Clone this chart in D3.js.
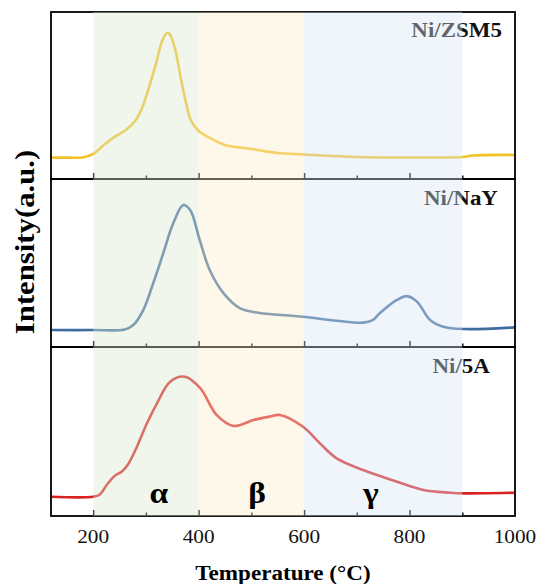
<!DOCTYPE html>
<html><head><meta charset="utf-8">
<script src="https://cdn.jsdelivr.net/npm/d3@7"></script>
<style>body{margin:0;background:#fff}svg{display:block}
text{font-family:"Liberation Serif","Times New Roman",serif}</style>
</head><body>
<script>
// ---- data ----
const samples = ["Ni/ZSM5", "Ni/NaY", "Ni/5A"];
const zsm5T = [120,150,180,200,220,240,262,280,292,305,320,330,340,345,355,365,375,385,400,425,450,500,550,600,700,800,900,920,1000];
const zsm5I = [12.8,12.8,12.9,15.0,20.4,25.1,29.3,35.0,42.0,54.0,70.1,82.0,87.4,86.8,78.4,62.3,47.3,35.3,28.7,24.0,20.4,18.0,15.6,14.7,13.2,12.9,13.2,14.1,14.4];
const nayT = [120,200,260,276,295,314,333,352,371,384,402,421,447,478,516,535,598,662,712,730,744,776,795,814,839,864,902,1000];
const nayI = [10.1,10.1,10.4,13.1,22.0,38.1,55.9,73.8,84.5,81.5,63.7,45.8,32.1,23.2,20.2,19.6,18.0,15.6,14.5,16.0,20.2,28.0,30.3,27.0,16.1,12.1,10.7,11.7];
const a5T = [120,200,212,226,240,255,266,283,302,321,346,374,403,434,466,504,535,554,598,630,662,712,776,826,877,902,1000];
const a5I = [11.4,11.4,12.6,18.5,23.5,26.5,30.5,41.0,54.9,66.7,79.5,82.4,75.6,59.8,53.3,56.8,58.8,59.8,52.8,43.0,34.1,27.2,20.3,15.4,13.8,13.4,13.8];
const regions = [
  {from:200, to:400, label:"α"},
  {from:400, to:600, label:"β"},
  {from:600, to:900, label:"γ"}
];
const majorTicks = [200,400,600,800,1000];
const minorTicks = [300,500,700,900];

// ---- layout ----
const W = 538, H = 584;
const svg = d3.select("body").append("svg").attr("width", W).attr("height", H);
const x = d3.scaleLinear().domain([120,1000]).range([51,515]);
const panelTop = [12,179,347], panelBot = [179,347,516];
const lineColors = ["#f2c125", "#3f6c9f", "#d82222"];
const bandColors = ["rgb(220,232,210)", "rgb(252,237,202)", "rgb(215,230,242)"];
const series = [[zsm5T,zsm5I],[nayT,nayI],[a5T,a5I]];
const labelX = [502,498,490], labelY = [37,205,373];

series.forEach(([T,I], k) => {
  const y = d3.scaleLinear().domain([0,100]).range([panelBot[k], panelTop[k]]);
  const data = T.map((t,i)=>({t, v:I[i]}));
  svg.append("path").datum(data)
    .attr("fill","none").attr("stroke", lineColors[k]).attr("stroke-width",2.6)
    .attr("stroke-linejoin","round")
    .attr("d", d3.line().x(d=>x(d.t)).y(d=>y(d.v)).curve(d3.curveCatmullRom.alpha(0.5)));
  const g = svg.append("g").attr("transform", `translate(0,${panelBot[k]})`);
  g.call(d3.axisTop(x).tickValues(majorTicks.slice(0,4)).tickSize(6).tickFormat(""));
  g.call(gg=>gg.select(".domain").remove());
  const g2 = svg.append("g").attr("transform", `translate(0,${panelBot[k]})`);
  g2.call(d3.axisTop(x).tickValues(minorTicks).tickSize(3.5).tickFormat(""));
  g2.call(gg=>gg.select(".domain").remove());
  [g,g2].forEach(gg=>gg.selectAll("line").attr("stroke","#000").attr("stroke-width",1.5));
  svg.append("rect").attr("x", x(120)).attr("y", panelTop[k])
    .attr("width", x(1000)-x(120)).attr("height", panelBot[k]-panelTop[k])
    .attr("fill","none").attr("stroke","#000").attr("stroke-width",1.8);
  svg.append("text").attr("x", labelX[k]).attr("y", labelY[k])
    .attr("text-anchor","end")
    .attr("font-weight","bold").attr("font-size",20).attr("fill","#111")
    .attr("transform", `translate(${labelX[k]},0) scale(1.15,1) translate(${-labelX[k]},0)`)
    .text(samples[k]);
});

// translucent region overlays, drawn on top as in the reference
regions.forEach((r,i)=>{
  svg.append("rect").attr("x", x(r.from)).attr("y", panelTop[0])
    .attr("width", x(r.to)-x(r.from)).attr("height", panelBot[2]-panelTop[0])
    .attr("fill", bandColors[i]).attr("fill-opacity",0.4);
});
const greekX = [159,257,371];
regions.forEach((r,i)=>{
  svg.append("text").attr("x", greekX[i]).attr("y", 503).attr("text-anchor","middle")
    .attr("font-weight","bold").attr("font-size",30).attr("fill","#000")
    .attr("transform", `translate(${greekX[i]},0) scale(1.12,1) translate(${-greekX[i]},0)`)
    .text(r.label);
});

svg.append("g").selectAll("text").data(majorTicks).join("text")
  .attr("x", d=>x(d)).attr("y", 543).attr("text-anchor","middle")
  .attr("font-size",19).attr("fill","#111")
  .attr("transform", d=>`translate(${x(d)},0) scale(1.12,1) translate(${-x(d)},0)`)
  .text(d=>d);
svg.append("text").attr("x", 283).attr("y", 580).attr("text-anchor","middle")
  .attr("font-weight","bold").attr("font-size",21).attr("fill","#000")
  .attr("transform", "translate(283,0) scale(1.1,1) translate(-283,0)")
  .text("Temperature (°C)");
svg.append("text").attr("transform","translate(34,242) rotate(-90) scale(1.28,1.12)")
  .attr("text-anchor","middle")
  .attr("font-weight","bold").attr("font-size",24).attr("fill","#000").text("Intensity(a.u.)");
</script>
</body></html>
